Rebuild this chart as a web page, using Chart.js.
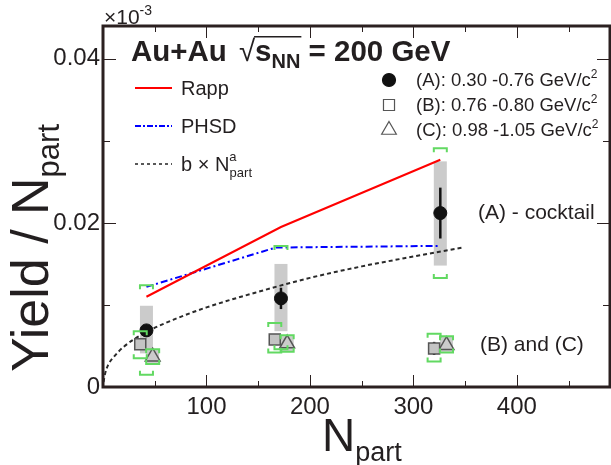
<!DOCTYPE html>
<html>
<head>
<meta charset="utf-8">
<script src="https://cdn.jsdelivr.net/npm/chart.js@4.4.1/dist/chart.umd.min.js"></script>
<style>
  html, body { margin: 0; padding: 0; background: #fff; overflow: hidden; }
</style>
</head>
<body>
<canvas id="yieldChart" width="620" height="465"></canvas>
<script>
const X_TICKS = [100, 200, 300, 400];
const Y_TICKS = [0, 0.02, 0.04];

// (A) 0.30-0.76 GeV/c^2 - filled circles
const A_NPART = [42, 172, 326];
const A_YIELD = [0.0069, 0.0108, 0.0212];
const A_STAT = [0.0006, 0.0013, 0.0031];
const A_SYS_LO = [0.0041, 0.0068, 0.0148];
const A_SYS_HI = [0.0099, 0.0150, 0.0275];
const A_CKT_LO = [0.0015, 0.0046, 0.0133];
const A_CKT_HI = [0.0124, 0.0172, 0.0291];

// (B) 0.76-0.80 GeV/c^2 - open squares
const B_NPART = [36, 166, 320];
const B_YIELD = [0.0052, 0.0058, 0.0047];
const B_STAT = [0.0, 0.0, 0.0008];
const B_CKT_LO = [0.0035, 0.0042, 0.0031];
const B_CKT_HI = [0.0068, 0.0078, 0.0065];

// (C) 0.98-1.05 GeV/c^2 - open triangles
const C_NPART = [48, 178, 332];
const C_YIELD = [0.0037, 0.0053, 0.0051];
const C_SYS_LO = [0.0029, 0.0043, 0.0043];
const C_SYS_HI = [0.0045, 0.0062, 0.0061];
const C_CKT_LO = [0.0028, 0.0043, 0.0042];
const C_CKT_HI = [0.0046, 0.0063, 0.0062];

// model curves
const RAPP_NPART = [42, 172, 326];
const RAPP_YIELD = [0.0110, 0.0195, 0.0277];
const PHSD_NPART = [42, 167, 326];
const PHSD_YIELD = [0.0122, 0.0170, 0.0172];
const FIT_NPART = [0.5, 2, 5, 10, 20, 42, 70, 100, 150, 200, 250, 300, 348];
const FIT_YIELD = [0.0006, 0.0016, 0.0027, 0.0036, 0.0049, 0.0067, 0.0083, 0.0097, 0.0116, 0.0133, 0.0147, 0.0159, 0.0170];

const FONT = "'Liberation Sans', Arial, Helvetica, sans-serif";
const AXIS_COLOR = "#2b2020";
const TEXT_COLOR = "#231f20";
const SYS_GRAY = "#cbcbcb";
const CKT_GREEN = "#62d962";
const BOX_W = 13;

const pts = (xs, ys) => xs.map((x, i) => ({ x: x, y: ys[i] }));

// draws a run of text pieces (for sub/superscripts)
function drawRich(ctx, x, y, parts) {
  let cx = x;
  parts.forEach(p => {
    ctx.font = (p.b ? "bold " : "") + p.f + "px " + FONT;
    ctx.fillText(p.t, cx, y + (p.dy || 0));
    cx += ctx.measureText(p.t).width + (p.gap || 0);
  });
  return cx;
}

const framePlugin = {
  id: "frame",
  beforeDatasetsDraw(chart) {
    const { ctx, scales: { x, y } } = chart;
    ctx.save();
    // systematic boxes
    ctx.fillStyle = SYS_GRAY;
    [[A_NPART, A_SYS_LO, A_SYS_HI], [C_NPART, C_SYS_LO, C_SYS_HI]].forEach(([ns, lo, hi]) => {
      ns.forEach((n, i) => {
        const px = x.getPixelForValue(n);
        const top = y.getPixelForValue(hi[i]), bot = y.getPixelForValue(lo[i]);
        ctx.fillRect(px - BOX_W / 2, top, BOX_W, bot - top);
      });
    });
    // stat error bars, behind the markers
    ctx.strokeStyle = "#111";
    ctx.lineWidth = 2.5;
    [[A_NPART, A_YIELD, A_STAT], [B_NPART, B_YIELD, B_STAT]].forEach(([ns, ys, es]) => {
      ns.forEach((n, i) => {
        if (!es[i]) return;
        const px = x.getPixelForValue(n);
        ctx.beginPath();
        ctx.moveTo(px, y.getPixelForValue(ys[i] + es[i]));
        ctx.lineTo(px, y.getPixelForValue(ys[i] - es[i]));
        ctx.stroke();
      });
    });
    ctx.restore();
  },
  afterDatasetsDraw(chart) {
    const { ctx, chartArea: a, scales: { x, y } } = chart;
    ctx.save();

    // cocktail brackets
    ctx.strokeStyle = CKT_GREEN;
    ctx.lineWidth = 2;
    [[A_NPART, A_CKT_LO, A_CKT_HI], [B_NPART, B_CKT_LO, B_CKT_HI], [C_NPART, C_CKT_LO, C_CKT_HI]].forEach(([ns, lo, hi]) => {
      ns.forEach((n, i) => {
        const px = x.getPixelForValue(n);
        const h = BOX_W / 2;
        const t = y.getPixelForValue(hi[i]), b = y.getPixelForValue(lo[i]);
        ctx.beginPath();
        ctx.moveTo(px - h, t + 4); ctx.lineTo(px - h, t); ctx.lineTo(px + h, t); ctx.lineTo(px + h, t + 4);
        ctx.moveTo(px - h, b - 4); ctx.lineTo(px - h, b); ctx.lineTo(px + h, b); ctx.lineTo(px + h, b - 4);
        ctx.stroke();
      });
    });

    // ticks on all four sides
    ctx.strokeStyle = AXIS_COLOR;
    ctx.lineWidth = 1;
    for (let v = 50; v < x.max; v += 50) {
      const px = Math.round(x.getPixelForValue(v)) + 0.5;
      const len = v % 100 === 0 ? 12 : 6;
      ctx.beginPath();
      ctx.moveTo(px, a.bottom); ctx.lineTo(px, a.bottom - len);
      ctx.moveTo(px, a.top); ctx.lineTo(px, a.top + len);
      ctx.stroke();
    }
    for (let k = 1; k * 0.01 < y.max; k++) {
      const py = Math.round(y.getPixelForValue(k * 0.01)) + 0.5;
      const len = k % 2 === 0 ? 13 : 7;
      ctx.beginPath();
      ctx.moveTo(a.left, py); ctx.lineTo(a.left + len, py);
      ctx.moveTo(a.right, py); ctx.lineTo(a.right - len, py);
      ctx.stroke();
    }

    // frame
    ctx.lineWidth = 3;
    ctx.strokeRect(a.left, a.top, a.right - a.left, a.bottom - a.top);

    ctx.fillStyle = TEXT_COLOR;
    ctx.textBaseline = "alphabetic";
    ctx.textAlign = "left";

    // exponent label
    drawRich(ctx, 104, 24, [{ t: "\u00d710", f: 21 }, { t: "-3", f: 14, dy: -9 }]);

    // title
    let tx = drawRich(ctx, 131, 61, [{ t: "Au+Au", f: 29.5, b: true, gap: 12 }, { t: "\u221a", f: 29.5 }]);
    const sx = tx;
    tx = drawRich(ctx, tx, 61, [{ t: "s", f: 29.5, b: true }, { t: "NN", f: 20, b: true, dy: 7 }]);
    ctx.fillRect(sx - 1, 36, tx - sx + 2, 1.5);
    drawRich(ctx, tx, 61, [{ t: " = 200 GeV", f: 29.5, b: true }]);

    // left legend (models)
    const leg = [
      { yy: 88, color: "#ff0000", dash: [], w: 2, label: [{ t: "Rapp", f: 20 }] },
      { yy: 126, color: "#0000ff", dash: [6, 2, 2, 2], w: 2, label: [{ t: "PHSD", f: 20 }] },
      { yy: 164, color: "#222", dash: [3, 3], w: 1.5, label: [{ t: "b \u00d7 N", f: 20 }, { t: "a", f: 13, dy: -10, gap: -7 }, { t: "part", f: 13, dy: 6 }] }
    ];
    leg.forEach(l => {
      ctx.strokeStyle = l.color;
      ctx.lineWidth = l.w;
      ctx.setLineDash(l.dash);
      ctx.beginPath(); ctx.moveTo(135, l.yy); ctx.lineTo(172, l.yy); ctx.stroke();
      ctx.setLineDash([]);
      drawRich(ctx, 181, l.yy + 7, l.label);
    });

    // right legend (mass ranges)
    const mk = [
      { yy: 80, style: "circle", r: 6.5, fill: "#111", stroke: "#111", txt: "(A): 0.30 -0.76 GeV/c" },
      { yy: 105, style: "rect", r: 7.8, fill: "#fff", stroke: "#555", txt: "(B): 0.76 -0.80 GeV/c" },
      { yy: 130, style: "triangle", r: 8.5, fill: "#fff", stroke: "#555", txt: "(C): 0.98 -1.05 GeV/c" }
    ];
    mk.forEach(m => {
      ctx.fillStyle = m.fill; ctx.strokeStyle = m.stroke; ctx.lineWidth = 1.2;
      Chart.helpers.drawPoint(ctx, { pointStyle: m.style, radius: m.r, borderWidth: 1.2 }, 389, m.yy);
      ctx.fillStyle = TEXT_COLOR;
      drawRich(ctx, 416, m.yy + 6, [{ t: m.txt, f: 18.5 }, { t: "2", f: 12, dy: -8 }]);
    });

    // annotations
    ctx.font = "21px " + FONT;
    ctx.fillText("(A) - cocktail", 478, 219);
    ctx.fillText("(B) and (C)", 480, 351);

    // axis titles
    drawRich(ctx, 322, 451, [{ t: "N", f: 46 }, { t: "part", f: 27, dy: 10 }]);
    ctx.save();
    ctx.translate(48, 372);
    ctx.rotate(-Math.PI / 2);
    drawRich(ctx, 0, 0, [{ t: "Yield / N", f: 52 }, { t: "part", f: 31, dy: 11 }]);
    ctx.restore();

    ctx.restore();
  }
};

new Chart(document.getElementById("yieldChart"), {
  type: "scatter",
  data: {
    datasets: [
      {
        data: pts(A_NPART, A_YIELD),
        pointStyle: "circle", pointRadius: 6.5,
        backgroundColor: "#111", borderColor: "#111", borderWidth: 1
      },
      {
        data: pts(B_NPART, B_YIELD),
        pointStyle: "rect", pointRadius: 7.8,
        backgroundColor: "#c4c4c4", borderColor: "#555", borderWidth: 1.5
      },
      {
        data: pts(C_NPART, C_YIELD),
        pointStyle: "triangle", pointRadius: 8.5,
        backgroundColor: "rgba(0,0,0,0)", borderColor: "#555", borderWidth: 1.5
      },
      {
        data: pts(RAPP_NPART, RAPP_YIELD), showLine: true,
        borderColor: "#ff0000", borderWidth: 2, pointRadius: 0
      },
      {
        data: pts(PHSD_NPART, PHSD_YIELD), showLine: true,
        borderColor: "#0000ff", borderWidth: 2, borderDash: [7, 3, 2, 3], pointRadius: 0
      },
      {
        data: pts(FIT_NPART, FIT_YIELD), showLine: true, cubicInterpolationMode: "monotone",
        borderColor: "#2a2a2a", borderWidth: 2, borderDash: [4, 3], pointRadius: 0
      }
    ]
  },
  options: {
    responsive: false,
    animation: false,
    events: [],
    layout: { padding: { top: 26, right: 7, left: 0, bottom: 0 } },
    plugins: { legend: { display: false }, tooltip: { enabled: false } },
    scales: {
      x: {
        type: "linear", min: 0, max: 490,
        grid: { display: false, drawTicks: false }, border: { display: false },
        afterBuildTicks: s => { s.ticks = X_TICKS.map(v => ({ value: v })); },
        afterFit: s => { s.height = 78; },
        ticks: { color: TEXT_COLOR, padding: 6, font: { family: FONT, size: 24 } }
      },
      y: {
        min: 0, max: 0.044,
        grid: { display: false, drawTicks: false }, border: { display: false },
        afterBuildTicks: s => { s.ticks = Y_TICKS.map(v => ({ value: v })); },
        afterFit: s => { s.width = 103; },
        ticks: {
          color: TEXT_COLOR, padding: 3, font: { family: FONT, size: 24 },
          callback: v => v === 0 ? "0" : v.toFixed(2)
        }
      }
    }
  },
  plugins: [framePlugin]
});
</script>
</body>
</html>
